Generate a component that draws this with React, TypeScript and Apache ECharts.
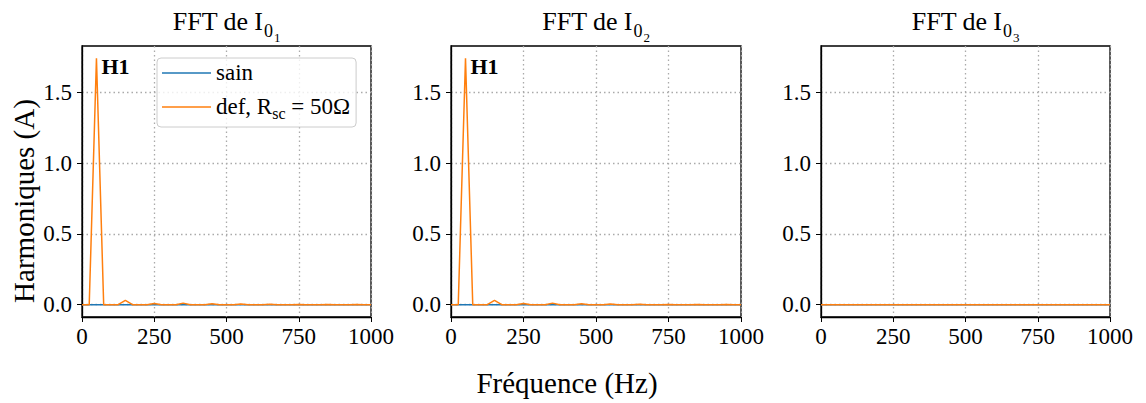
import React, { useEffect, useRef } from "react";
import * as echarts from "echarts";

const freqs = [0, 25, 50, 75, 100, 125, 150, 175, 200, 225, 250, 275, 300, 325, 350, 375, 400, 425, 450, 475, 500, 525, 550, 575, 600, 625, 650, 675, 700, 725, 750, 775, 800, 825, 850, 875, 900, 925, 950, 975, 1000];

const sain1 = [0, 0, 0, 0, 0, 0, 0, 0, 0, 0, 0, 0, 0, 0, 0, 0, 0, 0, 0, 0, 0, 0, 0, 0, 0, 0, 0, 0, 0, 0, 0, 0, 0, 0, 0, 0, 0, 0, 0, 0, 0];
const def1 = [0, 0, 1.74, 0, 0, 0, 0.03, 0, 0, 0, 0.008, 0, 0, 0, 0.011, 0, 0, 0, 0.007, 0, 0, 0, 0.004, 0, 0, 0, 0.003, 0, 0, 0, 0.002, 0, 0, 0, 0.001, 0, 0, 0, 0.001, 0, 0];
const sain2 = [0, 0, 0, 0, 0, 0, 0, 0, 0, 0, 0, 0, 0, 0, 0, 0, 0, 0, 0, 0, 0, 0, 0, 0, 0, 0, 0, 0, 0, 0, 0, 0, 0, 0, 0, 0, 0, 0, 0, 0, 0];
const def2 = [0, 0, 1.74, 0, 0, 0, 0.03, 0, 0, 0, 0.008, 0, 0, 0, 0.011, 0, 0, 0, 0.007, 0, 0, 0, 0.004, 0, 0, 0, 0.003, 0, 0, 0, 0.002, 0, 0, 0, 0.001, 0, 0, 0, 0.001, 0, 0];
const sain3 = [0, 0, 0, 0, 0, 0, 0, 0, 0, 0, 0, 0, 0, 0, 0, 0, 0, 0, 0, 0, 0, 0, 0, 0, 0, 0, 0, 0, 0, 0, 0, 0, 0, 0, 0, 0, 0, 0, 0, 0, 0];
const def3 = [0, 0, 0, 0, 0, 0, 0, 0, 0, 0, 0, 0, 0, 0, 0, 0, 0, 0, 0, 0, 0, 0, 0, 0, 0, 0, 0, 0, 0, 0, 0, 0, 0, 0, 0, 0, 0, 0, 0, 0, 0];

const yTicks = [0, 0.5, 1.0, 1.5];
const xTicksInterval = 250;
const subIndices = ["1", "2", "3"];
const peakLabels = ["H1", "H1", ""];
const SAIN = "sain";
const DEF = "def, Rsc = 50Ω";

const FONT = "'Liberation Serif', 'Times New Roman', serif";
const BLUE = "#1f77b4";
const ORANGE = "#ff7f0e";

const grids = [
  { left: 82, top: 46, width: 289, height: 271 },
  { left: 451, top: 46, width: 290, height: 271 },
  { left: 821, top: 46, width: 289, height: 271 },
];

export default function App() {
  const ref = useRef<HTMLDivElement>(null);
  useEffect(() => {
    if (!ref.current) return;
    const chart = echarts.init(ref.current, undefined, { renderer: "svg" });
    const sains = [sain1, sain2, sain3];
    const defs = [def1, def2, def3];

    const series: any[] = [];
    for (let i = 0; i < 3; i++) {
      series.push({
        type: "line",
        name: SAIN,
        xAxisIndex: i,
        yAxisIndex: i,
        data: freqs.map((f, j) => [f, sains[i][j]]),
        symbol: "none",
        lineStyle: { color: BLUE, width: 1.5 },
        itemStyle: { color: BLUE },
        z: 2,
      });
      const peakIdx = defs[i].indexOf(Math.max(...defs[i]));
      series.push({
        type: "line",
        name: DEF,
        xAxisIndex: i,
        yAxisIndex: i,
        data: freqs.map((f, j) => [f, defs[i][j]]),
        symbol: "none",
        lineStyle: { color: ORANGE, width: 1.5 },
        itemStyle: { color: ORANGE },
        z: 3,
        markPoint: peakLabels[i]
          ? {
              symbol: "circle",
              symbolSize: 0,
              silent: true,
              data: [{ coord: [freqs[peakIdx], defs[i][peakIdx]] }],
              label: {
                show: true,
                formatter: peakLabels[i],
                position: "right",
                distance: 5,
                offset: [0, 8],
                color: "#000",
                fontFamily: FONT,
                fontWeight: "bold",
                fontSize: 22,
              },
            }
          : undefined,
      });
    }

    const titleRich = {
      m: { fontSize: 26, lineHeight: 28, verticalAlign: "top", padding: [0, 0, 0, 0], fontFamily: FONT, color: "#000" },
      i: { fontSize: 26, lineHeight: 28, verticalAlign: "top", padding: [0, 0, 0, 6], fontFamily: FONT, color: "#000" },
      s: { fontSize: 18, lineHeight: 28, verticalAlign: "top", padding: [13.5, 0, 0, 1], fontFamily: FONT, color: "#000" },
      ss: { fontSize: 13, lineHeight: 28, verticalAlign: "top", padding: [22.5, 0, 0, 1], fontFamily: FONT, color: "#000" },
    };

    const option: any = {
      animation: false,
      backgroundColor: "#fff",
      textStyle: { fontFamily: FONT },
      title: grids.map((g, i) => ({
        text: `{m|FFT de}{i|I}{s|0}{ss|${subIndices[i]}}`,
        left: g.left + g.width / 2,
        top: 8.5,
        padding: 0,
        textAlign: "center",
        textStyle: { rich: titleRich, fontFamily: FONT, fontSize: 26, fontWeight: "normal", color: "#000" },
      })),
      legend: {
        data: [SAIN, DEF],
        orient: "vertical",
        left: 157,
        top: 58,
        padding: [3, 6, 6, 5],
        itemGap: 11,
        itemWidth: 49,
        itemHeight: 1.5,
        icon: "rect",
        backgroundColor: "rgba(255,255,255,0.8)",
        borderColor: "#cccccc",
        borderWidth: 1,
        borderRadius: 4,
        formatter: (name: string) =>
          name === SAIN ? "{a|sain}" : "{a|def, R}{s|sc}{a| = 50Ω}",
        textStyle: {
          fontFamily: FONT,
          fontSize: 23,
          color: "#000",
          rich: {
            a: { fontSize: 23, lineHeight: 24, verticalAlign: "top", padding: [0, 0, 0, 0], fontFamily: FONT, color: "#000" },
            s: { fontSize: 16, lineHeight: 24, verticalAlign: "top", padding: [10, 0, 0, 0], fontFamily: FONT, color: "#000" },
          },
        },
      },
      grid: grids.map((g) => ({
        ...g,
        show: true,
        borderColor: "#000",
        borderWidth: 1.3,
        backgroundColor: "transparent",
        containLabel: false,
      })),
      xAxis: grids.map((_, i) => ({
        type: "value",
        gridIndex: i,
        min: 0,
        max: 1000,
        interval: xTicksInterval,
        axisLine: { show: true, onZero: false, lineStyle: { color: "#000", width: 1.3 } },
        axisTick: { show: true, length: 5, lineStyle: { color: "#000", width: 1 } },
        axisLabel: {
          fontSize: 23,
          color: "#000",
          fontFamily: FONT,
          margin: 8,
          formatter: (v: number) => String(v),
        },
        splitLine: { show: true, lineStyle: { type: [1.5, 3], color: "#aaaaaa", width: 1.3 } },
      })),
      yAxis: grids.map((_, i) => ({
        type: "value",
        gridIndex: i,
        min: -0.087,
        max: 1.827,
        axisLine: { show: true, onZero: false, lineStyle: { color: "#000", width: 1.3 } },
        axisTick: { show: true, length: 5, customValues: yTicks, lineStyle: { color: "#000", width: 1 } },
        axisLabel: {
          fontSize: 23,
          color: "#000",
          fontFamily: FONT,
          margin: 10,
          customValues: yTicks,
          formatter: (v: number) => v.toFixed(1),
        },
        splitLine: { show: true, lineStyle: { type: [1.5, 3], color: "#aaaaaa", width: 1.3 } },
      })),
      graphic: [
        {
          type: "text",
          x: 567,
          y: 383,
          style: {
            text: "Fréquence (Hz)",
            fontFamily: FONT,
            fontSize: 29,
            fill: "#000",
            align: "center",
            verticalAlign: "middle",
          },
        },
        {
          type: "text",
          x: 24,
          y: 201,
          rotation: Math.PI / 2,
          style: {
            text: "Harmoniques (A)",
            fontFamily: FONT,
            fontSize: 29,
            fill: "#000",
            align: "center",
            verticalAlign: "middle",
          },
        },
      ],
      series,
    };
    chart.setOption(option);
    return () => chart.dispose();
  }, []);
  return (
    <div
      ref={ref}
      style={{ position: "fixed", left: 0, top: 0, width: 1146, height: 403 }}
    />
  );
}
